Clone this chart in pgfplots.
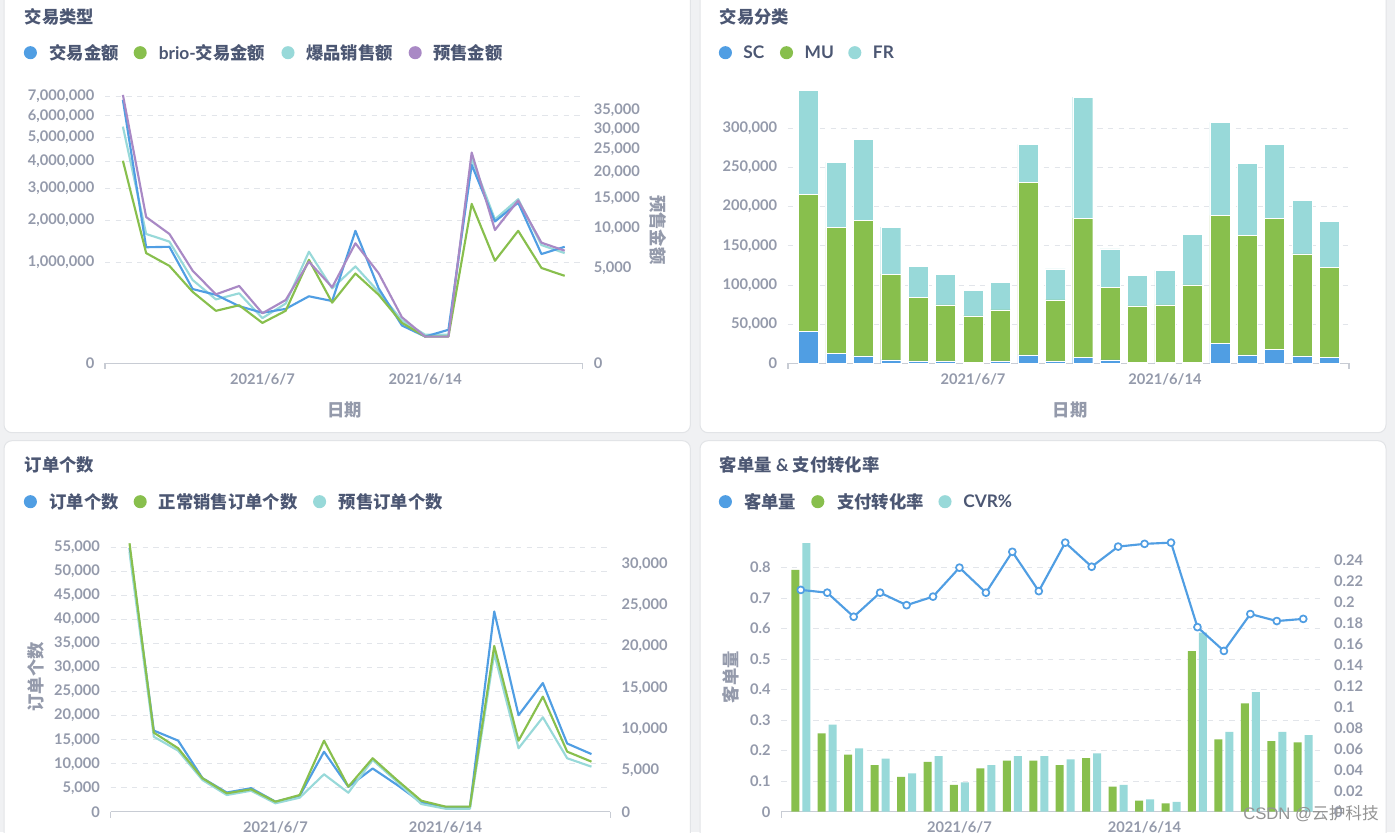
\documentclass[border=0pt]{standalone}
\usepackage{fontspec}
\setmainfont{Lato}
\newfontfamily\cjk{Noto Sans CJK SC}
\newfontfamily\wmfont{Liberation Sans}
\usepackage{pgfplots}
\usepackage{pgfplotstable}
\pgfplotsset{compat=1.18}

\definecolor{mbblue}{RGB}{80,158,227}
\definecolor{mbgreen}{RGB}{136,191,77}
\definecolor{mbcyan}{RGB}{152,217,217}
\definecolor{mbpurple}{RGB}{169,137,197}
\definecolor{titlecol}{RGB}{76,87,115}
\definecolor{tickcol}{RGB}{148,154,171}
\definecolor{axiscol}{RGB}{200,204,212}
\definecolor{gridcol}{RGB}{226,229,234}
\definecolor{pagebg}{RGB}{240,241,243}
\definecolor{cardline}{RGB}{226,228,231}

% 交易类型: left axis in millions, right axis (预售金额) in thousands
\pgfplotstableread{
i blue green cyan purple
0 6.80 4.02 5.49 39.4
1 1.32 1.19 1.64 11.7
2 1.33 0.93 1.45 9.15
3 0.54 0.50 0.68 4.69
4 0.46 0.27 0.40 2.60
5 0.32 0.33 0.48 3.27
6 0.25 0.16 0.20 1.37
7 0.29 0.27 0.35 2.19
8 0.44 1.05 1.22 5.65
9 0.38 0.36 0.55 3.16
10 1.72 0.79 0.92 7.88
11 0.55 0.46 0.50 4.43
12 0.14 0.16 0.18 1.16
13 0.07 0.07 0.08 0.39
14 0.11 0.07 0.08 0.39
15 3.86 2.49 4.12 24.3
16 1.97 1.03 2.03 9.72
17 2.53 1.72 2.64 14.5
18 1.17 0.89 1.37 7.96
19 1.33 0.75 1.19 6.94
}\tldata

% 交易分类
\pgfplotstableread{
i sc mu fr
0 40400 175300 132400
1 12800 160400 83800
2 9400 173200 103400
3 4300 109700 60000
4 3000 81300 39100
5 3000 71500 39500
6 1300 59100 32800
7 3000 65100 34900
8 10600 220000 49000
9 3000 77900 39500
10 7200 178300 154500
11 4300 92300 49400
12 1300 71900 39100
13 1300 73200 44200
14 1300 98700 64700
15 25500 163400 118800
16 10600 152800 91900
17 17900 167600 94100
18 9400 130200 68500
19 7700 114400 59200
}\trdata

% 订单个数
\pgfplotstableread{
i total normal presale
0 54900 32500 31400
1 16900 9570 9080
2 14800 7680 7390
3 7000 4050 3840
4 4000 2230 2020
5 4900 2710 2540
6 2100 1210 1020
7 3300 2020 1700
8 12500 8600 4530
9 5200 3030 2300
10 9000 6470 6260
11 5600 3840 3630
12 1900 1330 930
13 1000 610 360
14 1000 610 360
15 41700 20070 19180
16 20100 8600 7680
17 26800 13930 11430
18 14200 7270 6470
19 12000 6060 5450
}\bldata

% 客单量 & 支付转化率
\pgfplotstableread{
i kdl zf cvr
0 0.727 0.2305 0.256
1 0.718 0.0748 0.083
2 0.639 0.0544 0.0605
3 0.718 0.0445 0.0505
4 0.677 0.0331 0.0366
5 0.705 0.0474 0.0531
6 0.800 0.0255 0.028
7 0.718 0.0414 0.0445
8 0.852 0.0486 0.0531
9 0.723 0.0486 0.0531
10 0.882 0.0445 0.050
11 0.803 0.0510 0.0557
12 0.869 0.0238 0.0255
13 0.878 0.0105 0.0118
14 0.882 0.008 0.0093
15 0.605 0.153 0.1707
16 0.527 0.069 0.076
17 0.648 0.1034 0.1139
18 0.625 0.0673 0.076
19 0.632 0.0662 0.0731
}\brdata

\newcommand\tfont{\fontsize{13}{15}\selectfont\bfseries}

\pgfplotsset{
  card/.style={
    scale only axis, anchor=south west, clip=false,
    axis x line*=bottom, axis y line*=left,
    x axis line style={draw=axiscol, line width=0.9pt, -},
    y axis line style={draw=none},
    tick style={draw=none}, major tick length=0pt,
    ymajorgrids,
    grid style={gridcol, line width=0.7pt, dash pattern=on 4pt off 4pt},
    tick label style={font=\fontsize{11}{13}\selectfont\bfseries, text=tickcol},
    /pgf/number format/fixed,
    /pgf/number format/precision=2,
    /pgf/number format/1000 sep={,},
    /pgf/number format/assume math mode=true,
    scaled y ticks=false,
    xtick={6,13}, xticklabels={2021/6/7,2021/6/14},
    xticklabel style={yshift=-4pt},
    yticklabel style={xshift=-4.5pt},
  },
  cardright/.style={
    scale only axis, anchor=south west, clip=false,
    axis y line*=right, hide x axis,
    y axis line style={draw=none},
    tick style={draw=none}, major tick length=0pt,
    tick label style={font=\fontsize{11}{13}\selectfont\bfseries, text=tickcol},
    /pgf/number format/fixed,
    /pgf/number format/precision=2,
    /pgf/number format/1000 sep={,},
    /pgf/number format/assume math mode=true,
    scaled y ticks=false,
    yticklabel style={xshift=5pt},
  },
  ln/.style={line width=1.6pt, line join=round},
}

\begin{document}
\begin{tikzpicture}
\useasboundingbox (0,0) rectangle (1046.25pt,624pt);
\clip (0,0) rectangle (1046.25pt,624pt);

\begin{scope}[x=0.75pt,y=0.75pt]
  \fill[pagebg] (0,0) rectangle (1395,832);
  \filldraw[fill=white, draw=cardline, line width=0.75pt, rounded corners=6pt] (4,399.3) rectangle (690.4,845);
  \filldraw[fill=white, draw=cardline, line width=0.75pt, rounded corners=6pt] (700,399.3) rectangle (1386,845);
  \filldraw[fill=white, draw=cardline, line width=0.75pt, rounded corners=6pt] (4,-15) rectangle (690.4,391.3);
  \filldraw[fill=white, draw=cardline, line width=0.75pt, rounded corners=6pt] (700,-15) rectangle (1386,391.3);

  \coordinate (pTL) at (105,468.7);
  \coordinate (pTR) at (787.9,468.7);
  \coordinate (pBL) at (110.7,20.3);
  \coordinate (pBR) at (781.2,20.3);

  % titles
  \node[anchor=west, inner sep=0, text=titlecol, font=\tfont] at (24.5,815.3) {\cjk\bfseries 交易类型};
  \node[anchor=west, inner sep=0, text=titlecol, font=\tfont] at (719.6,815.3) {\cjk\bfseries 交易分类};
  \node[anchor=west, inner sep=0, text=titlecol, font=\tfont] at (24.5,367) {\cjk\bfseries 订单个数};
  \node[anchor=west, inner sep=0, text=titlecol, font=\tfont] at (719.6,367) {{\cjk\bfseries 客单量} \& {\cjk\bfseries 支付转化率}};

  % legends
  \fill[mbblue] (30.4,779.3) circle (4.9pt);
  \node[anchor=west, inner sep=0, text=titlecol, font=\tfont] at (49.1,779.3) {\cjk\bfseries 交易金额};
  \fill[mbgreen] (140.2,779.3) circle (4.9pt);
  \node[anchor=west, inner sep=0, text=titlecol, font=\tfont] at (158.5,779.3) {brio-{\cjk\bfseries 交易金额}};
  \fill[mbcyan] (288,779.3) circle (4.9pt);
  \node[anchor=west, inner sep=0, text=titlecol, font=\tfont] at (305.8,779.3) {\cjk\bfseries 爆品销售额};
  \fill[mbpurple] (415.2,779.3) circle (4.9pt);
  \node[anchor=west, inner sep=0, text=titlecol, font=\tfont] at (433,779.3) {\cjk\bfseries 预售金额};

  \fill[mbblue] (725.4,779.3) circle (4.9pt);
  \node[anchor=west, inner sep=0, text=titlecol, font=\tfont] at (743.2,779.3) {SC};
  \fill[mbgreen] (786.5,779.3) circle (4.9pt);
  \node[anchor=west, inner sep=0, text=titlecol, font=\tfont] at (804.4,779.3) {MU};
  \fill[mbcyan] (854.8,779.3) circle (4.9pt);
  \node[anchor=west, inner sep=0, text=titlecol, font=\tfont] at (872.7,779.3) {FR};

  \fill[mbblue] (30.4,330.3) circle (4.9pt);
  \node[anchor=west, inner sep=0, text=titlecol, font=\tfont] at (49.1,330.3) {\cjk\bfseries 订单个数};
  \fill[mbgreen] (140.2,330.3) circle (4.9pt);
  \node[anchor=west, inner sep=0, text=titlecol, font=\tfont] at (158.5,330.3) {\cjk\bfseries 正常销售订单个数};
  \fill[mbcyan] (319.6,330.3) circle (4.9pt);
  \node[anchor=west, inner sep=0, text=titlecol, font=\tfont] at (338.4,330.3) {\cjk\bfseries 预售订单个数};

  \fill[mbblue] (725.4,330.3) circle (4.9pt);
  \node[anchor=west, inner sep=0, text=titlecol, font=\tfont] at (744,330.3) {\cjk\bfseries 客单量};
  \fill[mbgreen] (817.8,330.3) circle (4.9pt);
  \node[anchor=west, inner sep=0, text=titlecol, font=\tfont] at (837,330.3) {\cjk\bfseries 支付转化率};
  \fill[mbcyan] (945,330.3) circle (4.9pt);
  \node[anchor=west, inner sep=0, text=titlecol, font=\tfont] at (963,330.3) {CVR\%};

  % axis titles
  \node[text=tickcol, font=\tfont, inner sep=0] at (344.6,422) {\cjk\bfseries 日期};
  \node[text=tickcol, font=\tfont, inner sep=0] at (1070,422) {\cjk\bfseries 日期};
  \node[text=tickcol, font=\tfont, inner sep=0, rotate=-90] at (658.5,602) {\cjk\bfseries 预售金额};
  \node[text=tickcol, font=\tfont, inner sep=0, rotate=90] at (35.7,155.3) {\cjk\bfseries 订单个数};
  \node[text=tickcol, font=\tfont, inner sep=0, rotate=90] at (730.7,155) {\cjk\bfseries 客单量};

  % small end ticks of the x axes
  \draw[axiscol, line width=0.9pt] (105,468.7) -- (105,462.7) (582.6,468.7) -- (582.6,462.7);
  \draw[axiscol, line width=0.9pt] (787.9,468.7) -- (787.9,462.7) (1349,468.7) -- (1349,462.7);
  \draw[axiscol, line width=0.9pt] (110.7,20.3) -- (110.7,14.3) (610.3,20.3) -- (610.3,14.3);
  \draw[axiscol, line width=0.9pt] (781.2,20.3) -- (781.2,14.3) (1322.8,20.3) -- (1322.8,14.3);
\end{scope}

%% ---------- 交易类型 (square-root scale) ----------
\begin{axis}[card, at={(pTL)}, width=358.2pt, height=205pt,
  xmin=-0.77, xmax=19.77, ymin=0, ymax=7.322,
  y coord trafo/.code={\pgfmathparse{sqrt(#1)}},
  y coord inv trafo/.code={\pgfmathparse{(#1)^2}},
  ytick={0,1,2,3,4,5,6,7},
  yticklabels={0,{1,000,000},{2,000,000},{3,000,000},{4,000,000},{5,000,000},{6,000,000},{7,000,000}},
]
\addplot[ln, mbcyan] table[x=i,y=cyan]{\tldata};
\addplot[ln, mbblue] table[x=i,y=blue]{\tldata};
\addplot[ln, mbgreen] table[x=i,y=green]{\tldata};
\end{axis}
\begin{axis}[cardright, at={(pTL)}, width=358.2pt, height=205pt,
  xmin=-0.77, xmax=19.77, ymin=0, ymax=40.87,
  y coord trafo/.code={\pgfmathparse{sqrt(#1)}},
  y coord inv trafo/.code={\pgfmathparse{(#1)^2}},
  ytick={0,5,10,15,20,25,30,35},
  yticklabels={0,{5,000},{10,000},{15,000},{20,000},{25,000},{30,000},{35,000}},
]
\addplot[ln, mbpurple] table[x=i,y=purple]{\tldata};
\end{axis}

%% ---------- 交易分类 ----------
\begin{axis}[card, at={(pTR)}, width=420.8pt, height=208.7pt,
  xmin=-0.75, xmax=19.71, ymin=0, ymax=355300,
  ytick={0,50000,100000,150000,200000,250000,300000},
  ybar stacked, bar width=15pt,
]
\addplot[fill=mbblue, draw=white, line width=0.3pt] table[x=i,y=sc]{\trdata};
\addplot[fill=mbgreen, draw=white, line width=0.3pt] table[x=i,y=mu]{\trdata};
\addplot[fill=mbcyan, draw=white, line width=0.3pt] table[x=i,y=fr]{\trdata};
\end{axis}

%% ---------- 订单个数 ----------
\begin{axis}[card, at={(pBL)}, width=374.7pt, height=203.8pt,
  xmin=-0.774, xmax=19.774, ymin=0, ymax=56600,
  ytick={0,5000,10000,15000,20000,25000,30000,35000,40000,45000,50000,55000},
]
\addplot[ln, mbblue] table[x=i,y=total]{\bldata};
\end{axis}
\begin{axis}[cardright, at={(pBL)}, width=374.7pt, height=203.8pt,
  xmin=-0.774, xmax=19.774, ymin=0, ymax=32900,
  ytick={0,5000,10000,15000,20000,25000,30000},
]
\addplot[ln, mbcyan] table[x=i,y=presale]{\bldata};
\addplot[ln, mbgreen] table[x=i,y=normal]{\bldata};
\end{axis}

%% ---------- 客单量 & 支付转化率 ----------
\begin{axis}[card, at={(pBR)}, width=406.2pt, height=203.8pt,
  xmin=-0.74, xmax=19.74, ymin=0, ymax=0.8908,
  ytick={0,0.1,0.2,0.3,0.4,0.5,0.6,0.7,0.8},
]
\addplot[draw=none] coordinates {(0,0)};
\end{axis}
\begin{axis}[cardright, at={(pBR)}, width=406.2pt, height=203.8pt,
  xmin=-0.74, xmax=19.74, ymin=0, ymax=0.2591,
  ytick={0,0.02,0.04,0.06,0.08,0.1,0.12,0.14,0.16,0.18,0.2,0.22,0.24},
  ybar=2.25pt, bar width=6pt,
]
\addplot[fill=mbgreen, draw=none] table[x=i,y=zf]{\brdata};
\addplot[fill=mbcyan, draw=none] table[x=i,y=cvr]{\brdata};
\end{axis}
\begin{axis}[scale only axis, anchor=south west, clip=false, hide axis,
  at={(pBR)}, width=406.2pt, height=203.8pt,
  xmin=-0.74, xmax=19.74, ymin=0, ymax=0.8908,
]
\addplot[ln, mbblue, mark=*, mark size=2.6pt,
  mark options={fill=white, draw=mbblue, line width=1.3pt}] table[x=i,y=kdl]{\brdata};
\end{axis}

\begin{scope}[x=0.75pt,y=0.75pt]
  \node[anchor=east, inner sep=0, text=black!42, font=\fontsize{12.5}{14}\selectfont] at (1379,18.7)
    {{\wmfont CSDN @}{\cjk 云护科技}};
\end{scope}
\end{tikzpicture}
\end{document}
